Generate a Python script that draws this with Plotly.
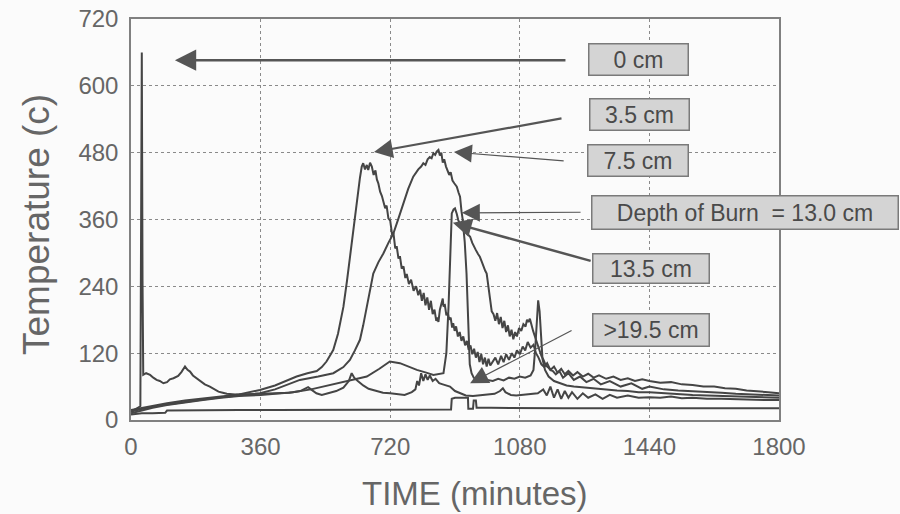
import plotly.graph_objects as go

# ---------------- data ----------------
t_0cm = [0, 10, 20, 26, 28, 30, 32, 34, 42, 53, 62, 71, 80, 90, 100, 108, 118, 131, 140, 150, 157, 164,
         172, 180, 192, 205, 219, 232, 243, 255, 266, 290, 320, 360, 400, 440, 470, 485, 492, 500, 515,
         530, 550, 570, 590, 605, 613, 620, 630, 645, 660, 680, 700, 720, 740, 760, 780, 790, 795, 800,
         806, 812, 818, 824, 830, 838, 846, 856, 866, 876, 886, 900, 915, 930, 950, 970, 990, 1010, 1025,
         1033, 1040, 1055, 1070, 1090, 1110, 1130, 1145, 1155, 1165, 1175, 1185, 1195, 1205, 1215, 1225,
         1240, 1255, 1270, 1290, 1310, 1330, 1350, 1380, 1410, 1440, 1470, 1500, 1530, 1560, 1600, 1640,
         1680, 1720, 1760, 1800]
T_0cm = [15, 18, 22, 25, 660, 660, 250, 81, 84, 81, 76, 72, 70, 66, 68, 73, 75, 79, 86, 96, 90, 87,
         80, 76, 69, 64, 60, 55, 51, 49, 47, 46, 46, 47, 48, 49, 52, 56, 59, 55, 48,
         45, 48, 52, 58, 70, 84, 76, 70, 62, 56, 52, 49, 48, 46, 45, 50, 55, 70, 62,
         84, 70, 82, 72, 80, 70, 74, 66, 64, 62, 60, 52, 48, 44, 43, 44, 45, 47, 52,
         57, 50, 45, 44, 45, 46, 48, 55, 44, 60, 40, 55, 38, 52, 40, 50,
         38, 48, 40, 46, 38, 45, 40, 44, 40, 41, 40, 42, 39, 40, 38, 38,
         37, 36, 36, 36]

t_3_5cm = [0, 30, 60, 100, 150, 200, 250, 300, 358, 400, 430, 460, 490, 516, 530, 543, 555, 562, 575,
           590, 600, 608, 618, 627, 636, 641, 645, 650, 655, 659, 664, 669, 674, 679, 683, 687, 692, 697,
           701, 706, 710, 715, 720, 725, 729, 734, 738, 743, 747, 752, 757, 762, 766, 772, 778, 785, 792,
           798, 803, 808, 813, 818, 823, 828, 833, 838, 843, 848, 851, 854, 858, 862, 866, 868, 872, 876,
           880, 884, 888, 892, 895, 899, 903, 908, 913, 918, 923, 928, 933, 938, 943, 948, 953, 958, 963,
           968, 973, 978, 983, 988, 993, 998, 1005, 1012, 1020, 1028, 1035, 1042, 1050, 1058, 1065, 1072,
           1080, 1088, 1095, 1102, 1110, 1118, 1125, 1132, 1140, 1148, 1156, 1165, 1175, 1185, 1195, 1205,
           1215, 1228, 1240, 1255, 1270, 1285, 1300, 1320, 1340, 1360, 1380, 1400, 1420, 1440, 1470, 1500,
           1530, 1560, 1590, 1620, 1650, 1680, 1710, 1740, 1770, 1800]
T_3_5cm = [18, 22, 26, 30, 35, 38, 42, 46, 54, 62, 70, 78, 84, 88, 95, 105, 118, 126, 155,
           203, 250, 293, 345, 395, 435, 455, 461, 450, 458, 449, 462, 455, 440, 448, 432, 425, 410, 402,
           390, 380, 385, 362, 358, 334, 336, 308, 312, 290, 294, 272, 276, 255, 262, 244, 252, 232, 240,
           224, 234, 214, 228, 206, 220, 198, 214, 190, 198, 178, 184, 176, 198, 208, 218, 204, 206, 188,
           192, 180, 184, 166, 174, 160, 168, 150, 158, 142, 150, 134, 142, 126, 134, 118, 128, 112, 122,
           104, 118, 100, 112, 96, 110, 98, 105, 112, 100, 115, 104, 118, 108, 120, 112, 125,
           118, 132, 125, 140, 130, 135, 120, 112, 100, 95, 102, 90, 96, 85, 92, 82,
           88, 80, 86, 78, 83, 76, 80, 74, 78, 72, 75, 70, 73, 70, 67, 68,
           64, 63, 60, 60, 57, 56, 53, 52, 50, 48]

t_7_5cm = [0, 30, 60, 100, 150, 200, 250, 300, 358, 400, 430, 469, 520, 562, 590, 608, 622, 636, 645,
           655, 664, 673, 687, 701, 715, 729, 743, 757, 770, 784, 798, 806, 812, 818, 824, 830, 835, 840,
           845, 849, 854, 858, 862, 866, 870, 875, 879, 884, 888, 893, 898, 905, 910, 914, 918, 923, 928,
           933, 938, 942, 948, 953, 958, 964, 969, 974, 979, 984, 988, 993, 997, 1002, 1007, 1012, 1017,
           1022, 1027, 1032, 1037, 1042, 1047, 1052, 1057, 1062, 1067, 1072, 1078, 1084, 1090, 1096, 1100,
           1104, 1108, 1112, 1117, 1122, 1128, 1134, 1140, 1146, 1152, 1158, 1165, 1172, 1180, 1190, 1200,
           1215, 1230, 1247, 1265, 1285, 1305, 1330, 1360, 1390, 1420, 1440, 1480, 1520, 1560, 1600, 1640,
           1680, 1720, 1760, 1800]
T_7_5cm = [15, 20, 24, 28, 33, 37, 41, 44, 48, 55, 62, 72, 78, 84, 95, 108, 125, 144, 170,
           203, 235, 263, 283, 299, 318, 335, 362, 389, 415, 437, 450, 455, 461, 458, 468, 472, 470, 479,
           476, 482, 485, 475, 480, 462, 468, 455, 449, 440, 445, 430, 425, 419, 408, 401, 375, 353, 345,
           335, 332, 329, 318, 310, 305, 298, 293, 285, 275, 268, 263, 240, 215, 195, 190, 178, 192,
           172, 185, 165, 178, 158, 170, 150, 162, 145, 158, 150, 165, 160, 172, 168, 180,
           176, 182, 170, 160, 150, 138, 125, 115, 108, 98, 95, 90, 88, 82, 88, 76,
           84, 72, 78, 68, 74, 64, 70, 60, 66, 56, 60, 55, 53, 52, 50, 49,
           47, 46, 45, 44]

t_13_5cm = [0, 30, 60, 100, 150, 200, 250, 300, 360, 400, 450, 500, 550, 600, 655, 690, 719, 747, 770,
            794, 820, 840, 868, 876, 882, 887, 891, 896, 900, 905, 909, 914, 918, 923, 927, 932, 935, 937,
            941, 946, 952, 960, 975, 990, 1005, 1020, 1035, 1050, 1065, 1080, 1095, 1110, 1118, 1123, 1127,
            1131, 1135, 1139, 1143, 1150, 1160, 1175, 1190, 1210, 1230, 1260, 1290, 1320, 1350, 1380, 1410,
            1440, 1480, 1520, 1560, 1600, 1640, 1680, 1720, 1760, 1800]
T_13_5cm = [12, 17, 22, 27, 32, 36, 40, 43, 45, 47, 50, 55, 62, 70, 78, 92, 105, 102, 96,
            90, 85, 81, 84, 120, 203, 300, 371, 378, 380, 370, 359, 352, 355, 347, 320, 263, 200, 144,
            100, 84, 76, 72, 70, 72, 70, 74, 71, 76, 74, 78, 76, 80, 90, 130, 180,
            215, 195, 150, 110, 90, 78, 70, 66, 62, 60, 58, 56, 55, 53, 52, 50,
            50, 48, 47, 45, 44, 43, 42, 41, 40, 40]

t_19_5cm = [0, 30, 60, 95, 100, 200, 300, 400, 500, 600, 700, 800, 889, 891, 900, 936, 937, 950, 952,
            958, 960, 1000, 1100, 1200, 1300, 1400, 1500, 1600, 1700, 1800]
T_19_5cm = [10, 12, 12, 13, 17, 18, 18, 18, 18, 19, 19, 19, 19, 38, 40, 40, 20, 20, 35,
            35, 22, 22, 21, 21, 21, 21, 21, 21, 21, 21]

series = [("0 cm", t_0cm, T_0cm), ("3.5 cm", t_3_5cm, T_3_5cm), ("7.5 cm", t_7_5cm, T_7_5cm),
          ("13.5 cm", t_13_5cm, T_13_5cm), (">19.5 cm", t_19_5cm, T_19_5cm)]

x_ticks = [0, 360, 720, 1080, 1440, 1800]
y_ticks = [0, 120, 240, 360, 480, 600, 720]

x_title = "TIME (minutes)"
y_title = "Temperature (c)"

# label boxes: text, centre (px), size (px)
boxes = [
    ("0 cm", 638, 60, 101, 33),
    ("3.5 cm", 639, 114, 101, 33),
    ("7.5 cm", 638, 160, 102, 33),
    ("Depth of Burn\u00a0 = 13.0 cm", 745, 212, 308, 35),
    ("13.5 cm", 651, 268, 118, 31),
    (">19.5 cm", 651, 330, 118, 34),
]
# arrows: tip (data), tail (data), width, size
arrows = [
    (122, 646, 1211, 646, 2.5, 1.7),
    (675, 481, 1200, 542, 2.2, 1.7),
    (897, 481, 1206, 465, 1.2, 3.0),
    (919, 372, 1253, 373, 1.2, 3.0),
    (894, 354, 1281, 285, 2.5, 1.5),
    (942, 66, 1228, 162, 1.2, 3.0),
]

# ---------------- figure ----------------
L, R, T, B = 131, 779, 19, 420
W, H = 900, 514


def px2paper(px, py):
    return (px - L) / (R - L), (B - py) / (B - T)


fig = go.Figure()
for name, tx, ty in series:
    fig.add_trace(go.Scatter(x=tx, y=ty, mode="lines", name=name,
                             line=dict(color="#454545", width=2), showlegend=False))

font_fam = "Liberation Sans, Arial, sans-serif"
ann = []
for tipx, tipy, tx, ty, w, s in arrows:
    ann.append(dict(x=tipx, y=tipy, ax=tx, ay=ty, xref="x", yref="y", axref="x", ayref="y",
                    text="", showarrow=True, arrowhead=2, arrowsize=s, arrowwidth=w,
                    arrowcolor="#555555", standoff=0, startstandoff=0))
for txt, cx, cy, bw, bh in boxes:
    xp, yp = px2paper(cx, cy)
    ann.append(dict(x=xp, y=yp, xref="paper", yref="paper",
                    xanchor="center", yanchor="middle", text=txt, showarrow=False,
                    width=bw - 3, height=bh - 3, bgcolor="#d4d4d4", bordercolor="#7a7a7a",
                    borderwidth=1.5, borderpad=0,
                    font=dict(family=font_fam, size=23, color="#4a4a4a")))

xp, yp = px2paper(475, 493)
ann.append(dict(x=xp, y=yp, xref="paper", yref="paper", xanchor="center", yanchor="middle",
                text=x_title, showarrow=False, font=dict(family=font_fam, size=33, color="#666666")))
xp, yp = px2paper(36, 224)
ann.append(dict(x=xp, y=yp, xref="paper", yref="paper", xanchor="center", yanchor="middle",
                text=y_title, textangle=-90, showarrow=False,
                font=dict(family=font_fam, size=37, color="#666666")))

fig.update_layout(
    width=W, height=H,
    margin=dict(l=L, r=W - R, t=T, b=H - B, autoexpand=False),
    paper_bgcolor="#fbfbfb", plot_bgcolor="#fbfbfb",
    font=dict(family=font_fam, color="#666666"),
    annotations=ann,
)
fig.update_xaxes(range=[0, 1800], tickvals=x_ticks, ticktext=[str(v) for v in x_ticks],
                 showgrid=True, gridcolor="#8a8a8a", griddash="dot", gridwidth=1.2,
                 showline=True, mirror=True, linecolor="#808080", linewidth=1.5,
                 zeroline=False, ticks="", ticklabelstandoff=4, automargin=False,
                 tickfont=dict(size=24, color="#666666"))
fig.update_yaxes(range=[0, 720], tickvals=y_ticks, ticktext=[str(v) for v in y_ticks],
                 showgrid=True, gridcolor="#8a8a8a", griddash="dot", gridwidth=1.2,
                 showline=True, mirror=True, linecolor="#808080", linewidth=1.5,
                 zeroline=False, ticks="", ticklabelstandoff=6, automargin=False,
                 tickfont=dict(size=24, color="#666666"))

fig.write_html("out.html", config={"displayModeBar": False},
               post_script="document.body.style.margin='0';")
